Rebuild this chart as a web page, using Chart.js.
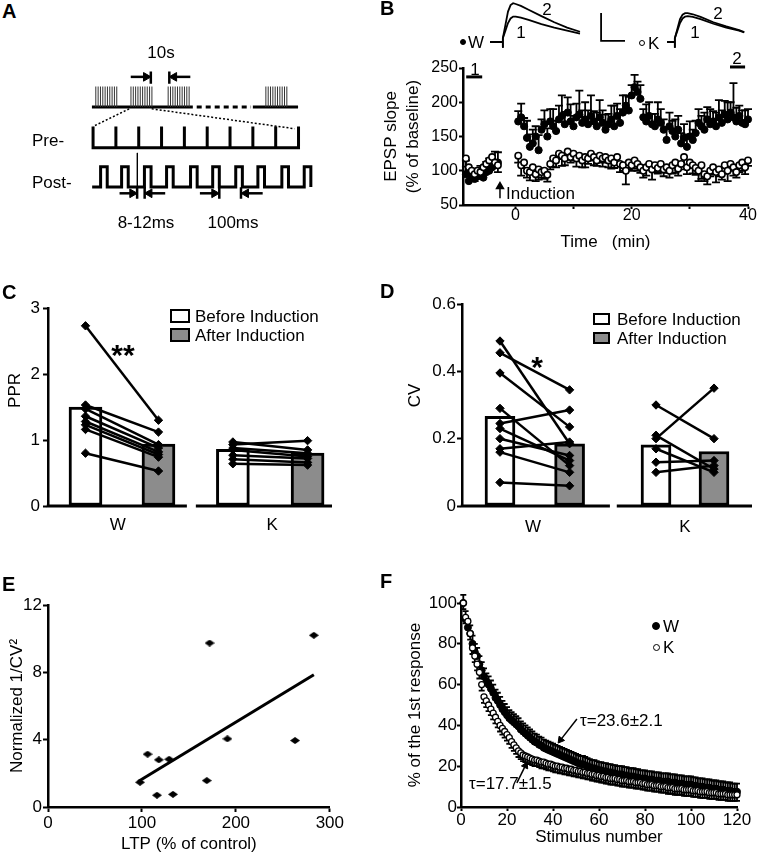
<!DOCTYPE html>
<html>
<head>
<meta charset="utf-8">
<title>Figure</title>
<script src="https://cdn.jsdelivr.net/npm/chart.js@4.4.1/dist/chart.umd.min.js"></script>
<style>
html,body{margin:0;padding:0;background:#fff;}
#wrap{position:relative;width:758px;height:853px;overflow:hidden;background:#fff;color:#000;font-family:'Liberation Sans',Arial,Helvetica,sans-serif;}
#wrap canvas{position:absolute;}
.t{position:absolute;white-space:nowrap;line-height:1;font-size:17px;}
.box{position:absolute;box-sizing:border-box;border:2px solid #000;}
.dot{position:absolute;box-sizing:border-box;border-radius:50%;border:1.5px solid #000;}
</style>
</head>
<body>
<div id="wrap"></div>
<script>
// ================= DATA =================
// Panel A (protocol schematic; units of 100 ms pulse intervals)
const aPreTicks   = [0, 1, 2, 3, 4, 5, 6, 7, 8, 9];
const aPostOnsets = [0.33, 1.25, 2.25, 3.22, 4.27, 5.24, 6.25, 7.22, 8.27, 9.25];
const aBurstOnsets = [0.12, 1.66, 3.29, 7.57];

// Panel B: EPSP slope (% of baseline) vs time (min)
const bTime = [-8.5,-8,-7.5,-7,-6.5,-6,-5.5,-5,-4.5,-4,-3.5,-3,
  0.5,1,1.5,2,2.5,3,3.5,4,4.5,5,5.5,6,6.5,7,7.5,8,8.5,9,9.5,10,
  10.5,11,11.5,12,12.5,13,13.5,14,14.5,15,15.5,16,16.5,17,17.5,18,18.5,19,19.5,20,
  20.5,21,21.5,22,22.5,23,23.5,24,24.5,25,25.5,26,26.5,27,27.5,28,28.5,29,29.5,30,
  30.5,31,31.5,32,32.5,33,33.5,34,34.5,35,35.5,36,36.5,37,37.5,38,38.5,39,39.5,40];
const bW = [95,85,90,88,92,95,90,98,100,105,108,112,
  172,178,165, 148,135,140,150,130, 160,168,150,172,165,158,
  175,180,168,185,172,165,178,182,170,175,168,180,172,165,178,170,
  160,168,175,165,180,170,185,195,188, 210,222,215,205,
  178,172,180,168,165,175,170,160,
  145,165,158,150,160,140,148,135,150,145,155,
  170,165,160,175,168,172,165,178,170,182,175,185,178,172,180,170,168,175];
const bWErr = [20,12,10,15,10,12,10,15,18,12,20,15,
  15,20,12,25,18,20,15,22,15,20,12,18,25,15,20,30,18,22,25,15,
  20,35,18,25,20,30,15,20,25,18,22,15,20,30,18,20,25,15,20,15,
  18,15,20,12,25,20,15,18,25,20,15,18,20,15,25,20,15,20,18,22,
  15,18,20,15,25,18,22,15,20,25,18,20,25,15,50,20,15,18,20,15];
const bK = [118,105,100,95,100,98,105,110,115,120,112,108,
  122,108,112, 100,98,105,95,102, 98,100,94,110,118,115,
  125,122,118,128,120,125,118,122,115,120,118,125,120,115,122,118,
  120,115,118,112,120,110,108,100,112, 108,115,110,105,
  100,105,110,102,108,104,110,102,
  105,100,108,112,103,110,120,105,112,108,104,
  100,108,95,92,100,105,98,102,95,108,100,110,105,98,108,112,105,115];
const bKErr = [12,10,8,10,12,8,10,12,10,15,8,10,
  10,15,8,10,12,8,10,15,8,12,10,8,12,10,8,15,10,12,8,10,
  12,8,10,15,8,10,12,8,10,12,8,10,15,8,10,12,8,20,10,8,
  12,10,8,10,12,8,15,10,8,12,10,8,10,12,15,10,8,12,10,8,
  12,10,15,20,10,12,8,10,15,10,8,12,15,10,12,8,10,12,10,8];
const bXTicks = [0, 10, 20, 30, 40];
// sample EPSP traces (ms, mV-ish)
const bTraceT  = [0,5,5,5,6,7,8,9,10,12,15,20,25,30,35];
const bTraceW1 = [0,0,-0.15,0.1,0.3,0.5,0.62,0.67,0.67,0.64,0.58,0.47,0.38,0.3,0.22];
const bTraceW2 = [0,0,-0.15,0.1,0.45,0.8,0.97,1.02,1.0,0.95,0.85,0.68,0.52,0.38,0.27];
const bTraceKT = [2,5,5,5,6,7,8,9,10,12,15,20,25,30,32];
const bTraceK1 = [0,0,-0.15,0.1,0.3,0.5,0.62,0.67,0.68,0.66,0.6,0.48,0.38,0.3,0.25];
const bTraceK2 = [0,0,-0.15,0.1,0.35,0.6,0.72,0.76,0.76,0.73,0.66,0.52,0.41,0.31,0.26];

// Panel C: PPR
const cGroups = ['W', 'K'];
const cBefore = [1.50, 0.86];
const cAfter  = [0.94, 0.80];
const cWBefore = [2.73, 1.53, 1.47, 1.36, 1.28, 1.23, 1.16, 0.80];
const cWAfter  = [1.30, 1.12, 0.93, 0.88, 0.82, 0.78, 0.74, 0.53];
const cKBefore = [0.93, 0.97, 0.88, 0.85, 0.77, 0.71, 0.64];
const cKAfter  = [0.99, 0.85, 0.80, 0.75, 0.72, 0.66, 0.62];

// Panel D: CV
const dGroups = ['W', 'K'];
const dBefore = [0.266, 0.182];
const dAfter  = [0.185, 0.162];
const dWBefore = [0.49, 0.455, 0.395, 0.29, 0.245, 0.23, 0.20, 0.17, 0.16, 0.07];
const dWAfter  = [0.185, 0.345, 0.235, 0.12, 0.285, 0.135, 0.15, 0.19, 0.10, 0.06];
const dKBefore = [0.30, 0.20, 0.21, 0.17, 0.13, 0.10];
const dKAfter  = [0.20, 0.35, 0.11, 0.10, 0.135, 0.12];

// Panel E: normalized 1/CV^2 vs LTP
const eLTP    = [98, 106, 118, 129, 116, 133, 169, 172, 191, 263, 283];
const eInvCV2 = [1.47, 3.14, 2.80, 2.84, 0.70, 0.75, 1.57, 9.74, 4.05, 3.95, 10.2];
const eFitX = [96, 283];
const eFitY = [1.51, 7.86];

// Panel F: % of 1st response vs stimulus number
const fStim = Array.from({length: 120}, (_, i) => i + 1);
const fW = [100,92,88,85,80,76,74,70,67,64,
  61.5,60,58,56,53.5,52,50,48,46.5,45,
  43.5,42.5,41.5,40.5,39.5,38,37,36,35,34,
  33,32,31.5,30.5,30,29,28.5,28,27.5,27,
  26.5,26,25.5,25,24.5,24,23.5,23,22.5,22,
  21.5,21,21,20.5,20,19.5,19,19,18.5,18,
  18,17.5,17.5,17,17,16.5,16.5,16,16,16,
  15.5,15.5,15,15,15,14.5,14.5,14,14,14,
  13.5,13.5,13.5,13,13,13,12.5,12.5,12.5,12.5,
  12,12,12,11.5,11.5,11.5,11,11,11,11,
  10.5,10.5,10,10,10,9.5,9.5,9.5,9,9,
  9,8.5,8.5,8.5,8,8,8,7.5,7.5,7.5];
const fK = [100,93,91,85,78,74,70,66,60,54,
  52,50,48,46,44,42,40,38.5,37,35.5,
  34,32,30.5,29,27.5,26.5,25.5,25,24.5,24,
  23.5,23,23,22.5,22,22,21.5,21,21,20.5,
  20,20,19.5,19.5,19,19,18.5,18.5,18,18,
  17.5,17.5,17,17,16.5,16.5,16,16,15.5,15.5,
  15,15,14.5,14.5,14,14,14,13.5,13.5,13,
  13,13,12.5,12.5,12.5,12,12,12,11.5,11.5,
  11,11,11,10.5,10.5,10.5,10,10,10,9.5,
  9.5,9.5,9,9,9,9,8.5,8.5,8.5,8.5,
  8,8,8,7.5,7.5,7.5,7.5,7,7,7,
  7,6.5,6.5,6.5,6.5,6,6,6,6,6];
const fErrW = 4;
const fErrK = 3;

// ================= SETUP =================
const FONT = "'Liberation Sans', Arial, Helvetica, sans-serif";
Chart.defaults.font.family = FONT;
Chart.defaults.font.size = 17;
Chart.defaults.color = '#000';
Chart.defaults.animation = false;
Chart.defaults.responsive = false;
Chart.defaults.maintainAspectRatio = false;
Chart.defaults.devicePixelRatio = 1;
Chart.defaults.events = [];
Chart.defaults.plugins.legend.display = false;
Chart.defaults.plugins.tooltip.enabled = false;

const wrap = document.getElementById('wrap');
function mk(left, top, w, h) {
  const c = document.createElement('canvas');
  c.width = w; c.height = h;
  c.style.left = left + 'px'; c.style.top = top + 'px';
  c.style.width = w + 'px'; c.style.height = h + 'px';
  wrap.appendChild(c);
  return c;
}
function txt(s, x, y, o = {}) {
  const d = document.createElement('div');
  d.className = 't';
  d.textContent = s;
  d.style.left = x + 'px'; d.style.top = y + 'px';
  const tx = o.align === 'center' ? '-50%' : (o.align === 'right' ? '-100%' : '0');
  d.style.transform = `translate(${tx},-50%)`;
  if (o.size) d.style.fontSize = o.size + 'px';
  if (o.bold) d.style.fontWeight = 'bold';
  wrap.appendChild(d);
}
function box(x, y, w, h, bg) {
  const d = document.createElement('div');
  d.className = 'box';
  Object.assign(d.style, {left: x + 'px', top: y + 'px', width: w + 'px', height: h + 'px', background: bg});
  wrap.appendChild(d);
}
function dot(cx, cy, r, fill) {
  const d = document.createElement('div');
  d.className = 'dot';
  Object.assign(d.style, {left: (cx - r) + 'px', top: (cy - r) + 'px', width: 2 * r + 'px', height: 2 * r + 'px', background: fill});
  wrap.appendChild(d);
}

function axisY(o) {
  return {
    type: 'linear', position: 'left', min: o.min, max: o.max,
    ticks: {stepSize: o.step, color: '#000', font: {size: o.fs || 17}, padding: o.tp ?? 1, autoSkip: false},
    grid: {display: true, drawOnChartArea: false, drawTicks: true, tickLength: o.tl ?? 5, tickColor: '#000', tickWidth: 2, color: '#000'},
    border: {display: true, color: '#000', width: 2.5},
    title: {display: true, text: o.title, color: '#000', font: {size: 17, lineHeight: o.lh || 1.2}, padding: {top: o.titlePad, bottom: 0}},
    afterFit: (s) => { s.width = o.width; }
  };
}
function axisX(o) {
  const a = {
    type: 'linear', position: 'bottom', min: o.min, max: o.max, offset: false,
    ticks: {stepSize: o.step, color: '#000', font: {size: o.fs || 17}, padding: o.tp ?? 1, autoSkip: false, maxRotation: 0},
    grid: {display: true, drawOnChartArea: false, drawTicks: true, tickLength: o.tl ?? 5, tickColor: '#000', tickWidth: 2, color: '#000', offset: false},
    border: {display: true, color: '#000', width: 2.5},
    title: {display: !!o.title, text: o.title || '', color: '#000', font: {size: 17}, padding: {top: 0, bottom: o.titlePad || 0}},
    afterFit: (s) => { s.height = o.height; }
  };
  if (o.tickValues) {
    a.afterBuildTicks = (s) => { s.ticks = o.tickValues.map(v => ({value: v})); };
  }
  if (o.cb) a.ticks.callback = o.cb;
  return a;
}

const errorBarPlugin = {
  id: 'errorBarPlugin',
  beforeDatasetDraw(chart, args) {
    const ds = chart.data.datasets[args.index];
    const eb = ds.errorBars;
    if (!eb) return;
    const ys = chart.scales.y, ctx = chart.ctx;
    ctx.save();
    ctx.strokeStyle = '#000';
    ctx.lineWidth = eb.width || 1.8;
    args.meta.data.forEach((pt, i) => {
      const raw = ds.data[i];
      const e = Array.isArray(eb.values) ? eb.values[i] : eb.values;
      if (raw == null || e == null) return;
      const y2 = ys.getPixelForValue(raw.y + eb.dir * e);
      ctx.beginPath();
      ctx.moveTo(pt.x, pt.y); ctx.lineTo(pt.x, y2);
      ctx.moveTo(pt.x - eb.cap, y2); ctx.lineTo(pt.x + eb.cap, y2);
      ctx.stroke();
    });
    ctx.restore();
  }
};
const brokenAxisPlugin = {
  id: 'brokenAxis',
  afterDraw(chart, args, opts) {
    const xs = chart.scales.x, ctx = chart.ctx, y = chart.chartArea.bottom;
    ctx.save();
    ctx.strokeStyle = '#000'; ctx.lineWidth = 3; ctx.lineCap = 'butt';
    (opts.segments || []).forEach(([a, b]) => {
      ctx.beginPath();
      ctx.moveTo(xs.getPixelForValue(a) - 1.25, y);
      ctx.lineTo(xs.getPixelForValue(b), y);
      ctx.stroke();
    });
    ctx.restore();
  }
};

function lineDS(points, o = {}) {
  return Object.assign({
    data: points, showLine: true, borderColor: '#000', borderWidth: 2.5, pointRadius: 0,
    spanGaps: false, clip: false, borderJoinStyle: 'miter', tension: 0
  }, o);
}
function arrowDS(from, to, rot, o = {}) {
  return Object.assign({
    data: [from, to], showLine: true, borderColor: '#000', borderWidth: 2.5,
    pointRadius: [0, 5], pointStyle: 'triangle', pointRotation: [0, rot],
    pointBackgroundColor: '#000', pointBorderColor: '#000', pointBorderWidth: 1, clip: false
  }, o);
}

// ================= PANEL A =================
(function () {
  const base = 6, top = 7, preB = 4.01, preT = 5.05, postB = 2.1, postT = 3.08, pw = 0.29;
  const bursts = [];
  aBurstOnsets.forEach(s => {
    for (let k = 0; k < 10; k++) {
      const x = s + k * 0.102;
      bursts.push({x, y: base}, {x, y: top}, {x, y: null});
    }
  });
  const pre = [];
  aPreTicks.forEach((u, i) => {
    if (i === 0) { pre.push({x: u, y: preT}, {x: u, y: preB}); }
    else { pre.push({x: u, y: preB}, {x: u, y: preT}); if (i < aPreTicks.length - 1) pre.push({x: u, y: preB}); }
  });
  const post = [{x: -0.04, y: postB}];
  aPostOnsets.forEach(s => { post.push({x: s, y: postB}, {x: s, y: postT}, {x: s + pw, y: postT}, {x: s + pw, y: postB}); });

  new Chart(mk(30, 60, 343, 176), {
    type: 'scatter',
    data: {datasets: [
      lineDS(bursts, {borderWidth: 1, borderColor: '#333'}),
      lineDS([{x: -0.05, y: base}, {x: 4.37, y: base}], {borderWidth: 3}),
      lineDS([{x: 4.54, y: base}, {x: 6.92, y: base}], {borderWidth: 3, borderDash: [5, 4]}),
      lineDS([{x: 7.0, y: base}, {x: 8.98, y: base}], {borderWidth: 3}),
      lineDS([{x: 1.58, y: 5.91}, {x: 0, y: 5.05}], {borderWidth: 1.5, borderDash: [2, 2]}),
      lineDS([{x: 2.57, y: 5.91}, {x: 8.83, y: 4.94}], {borderWidth: 1.5, borderDash: [2, 2]}),
      lineDS(pre, {borderWidth: 3}),
      lineDS(post, {borderWidth: 3}),
      lineDS([{x: 1.94, y: 3.76}, {x: 1.94, y: 1.94}], {borderWidth: 1}),
      // 10 s markers
      arrowDS({x: 1.65, y: 7.47}, {x: 2.32, y: 7.47}, 90),
      lineDS([{x: 2.53, y: 7.73}, {x: 2.53, y: 7.14}], {borderWidth: 2.5}),
      arrowDS({x: 4.26, y: 7.47}, {x: 3.55, y: 7.47}, 270),
      lineDS([{x: 3.34, y: 7.73}, {x: 3.34, y: 7.14}], {borderWidth: 2.5}),
      // 8-12 ms markers
      arrowDS({x: 1.16, y: 1.79}, {x: 1.72, y: 1.79}, 90),
      lineDS([{x: 1.93, y: 2.09}, {x: 1.93, y: 1.53}], {borderWidth: 2.5}),
      arrowDS({x: 3.16, y: 1.79}, {x: 2.47, y: 1.79}, 270),
      lineDS([{x: 2.26, y: 2.09}, {x: 2.26, y: 1.53}], {borderWidth: 2.5}),
      // 100 ms markers
      arrowDS({x: 4.68, y: 1.79}, {x: 5.31, y: 1.79}, 90),
      lineDS([{x: 5.53, y: 2.09}, {x: 5.53, y: 1.53}], {borderWidth: 2.5}),
      arrowDS({x: 7.43, y: 1.79}, {x: 6.70, y: 1.79}, 270),
      lineDS([{x: 6.48, y: 2.09}, {x: 6.48, y: 1.53}], {borderWidth: 2.5})
    ]},
    options: {layout: {padding: 0}, scales: {x: {display: false, min: -2.5, max: 12}, y: {display: false, min: 0, max: 8}}}
  });
  txt('A', 2, 11, {bold: true, size: 20});
  txt('10s', 161, 52, {align: 'center'});
  txt('Pre-', 32, 140);
  txt('Post-', 32, 182);
  txt('8-12ms', 146, 222, {align: 'center'});
  txt('100ms', 233, 222, {align: 'center'});
})();

// ================= PANEL B =================
(function () {
  const pW = bTime.map((t, i) => ({x: t, y: bW[i]}));
  const pK = bTime.map((t, i) => ({x: t, y: bK[i]}));
  new Chart(mk(380, 50, 378, 210), {
    type: 'scatter',
    data: {datasets: [
      {label: 'W', data: pW, pointRadius: 3.6, pointBackgroundColor: '#000', pointBorderColor: '#000', pointBorderWidth: 1, clip: false, order: 2,
       errorBars: {values: bWErr, dir: 1, cap: 4}},
      {label: 'K', data: pK, pointRadius: 3.2, pointBackgroundColor: '#fff', pointBorderColor: '#000', pointBorderWidth: 1.6, clip: false, order: 1,
       errorBars: {values: bKErr, dir: -1, cap: 4}},
      lineDS([{x: -2.64, y: 60}, {x: -2.64, y: 77}], {borderWidth: 1.5, pointRadius: [0, 4], pointStyle: 'triangle', pointRotation: [0, 0], pointBackgroundColor: '#000', pointBorderColor: '#000', order: 0}),
      lineDS([{x: -8.45, y: 237}, {x: -5.7, y: 237}], {borderWidth: 3, order: 0}),
      lineDS([{x: 36.9, y: 251.5}, {x: 39.5, y: 251.5}], {borderWidth: 3, order: 0})
    ]},
    options: {
      layout: {padding: {left: 0, top: 18, right: 10, bottom: 0}},
      scales: {
        x: axisX({min: -9, max: 40, height: 55, tl: 4, tp: -3, fs: 16, title: 'Time   (min)', titlePad: 7, tickValues: bXTicks,
                  cb: (v) => (v % 20 === 0 ? String(v) : '')}),
        y: axisY({min: 50, max: 250, step: 50, width: 83, tl: 4, tp: 1, fs: 16, title: ['EPSP slope', '(% of baseline)'], lh: 1.3, titlePad: 0})
      }
    },
    plugins: [errorBarPlugin]
  });
  // sample traces
  new Chart(mk(490, 0, 135, 52), {
    type: 'scatter',
    data: {datasets: [
      lineDS(bTraceT.map((t, i) => ({x: t, y: bTraceW1[i]})), {borderWidth: 1.8}),
      lineDS(bTraceT.map((t, i) => ({x: t, y: bTraceW2[i]})), {borderWidth: 1.8}),
      lineDS([{x: 43.2, y: 0.76}, {x: 43.2, y: 0.03}, {x: 52.5, y: 0.03}], {borderWidth: 1.8})
    ]},
    options: {layout: {padding: 0}, scales: {x: {display: false, min: 0, max: 52.5}, y: {display: false, min: -0.263, max: 1.105}}}
  });
  new Chart(mk(662, 0, 96, 52), {
    type: 'scatter',
    data: {datasets: [
      lineDS(bTraceKT.map((t, i) => ({x: t, y: bTraceK1[i]})), {borderWidth: 1.8}),
      lineDS(bTraceKT.map((t, i) => ({x: t, y: bTraceK2[i]})), {borderWidth: 1.8})
    ]},
    options: {layout: {padding: 0}, scales: {x: {display: false, min: 0, max: 37.35}, y: {display: false, min: -0.263, max: 1.105}}}
  });
  // trace line from label to artifact (baseline)
  txt('B', 380, 8, {bold: true, size: 20});
  dot(463, 42, 3, '#000');
  txt('W', 468, 42);
  dot(642, 43, 3.2, '#fff');
  txt('K', 648, 43);
  txt('2', 547, 9, {align: 'center'});
  txt('1', 521, 32, {align: 'center'});
  txt('2', 718, 13, {align: 'center'});
  txt('1', 695, 32, {align: 'center'});
  txt('1', 475, 69, {align: 'center'});
  txt('2', 737, 58, {align: 'center'});
  txt('Induction', 506, 193);
})();

// ================= PANEL C / D (bars + paired lines) =================
function pairedPanel(cv, cfg) {
  const ds = [
    {type: 'bar', label: 'Before Induction', order: 2, grouped: false, barThickness: cfg.barW,
     data: [{x: cfg.pos[0], y: cfg.before[0]}, {x: cfg.pos[2], y: cfg.before[1]}],
     backgroundColor: '#fff', borderColor: '#000', borderWidth: 3, borderSkipped: false},
    {type: 'bar', label: 'After Induction', order: 2, grouped: false, barThickness: cfg.barW,
     data: [{x: cfg.pos[1], y: cfg.after[0]}, {x: cfg.pos[3], y: cfg.after[1]}],
     backgroundColor: '#8c8c8c', borderColor: '#000', borderWidth: 3, borderSkipped: false}
  ];
  const pairStyle = {type: 'line', order: 0, borderColor: '#000', borderWidth: 2.5, pointStyle: 'rectRot', pointRadius: 4.2,
    pointBackgroundColor: '#000', pointBorderColor: '#000', pointBorderWidth: 1, clip: false, tension: 0};
  cfg.wB.forEach((b, i) => ds.push(Object.assign({data: [{x: cfg.pos[0], y: b}, {x: cfg.pos[1], y: cfg.wA[i]}]}, pairStyle)));
  cfg.kB.forEach((b, i) => ds.push(Object.assign({data: [{x: cfg.pos[2], y: b}, {x: cfg.pos[3], y: cfg.kA[i]}]}, pairStyle)));
  const xs = axisX({min: 0, max: 10, height: cfg.xH, tp: cfg.labPad, tickValues: cfg.labPos, cb: (v, i) => cfg.groups[i]});
  xs.grid = {display: false, drawTicks: false, tickLength: 0};
  xs.border = {display: false};
  new Chart(cv, {
    type: 'bar',
    data: {datasets: ds},
    options: {
      layout: {padding: cfg.pad},
      scales: {x: xs, y: axisY(cfg.y)},
      plugins: {brokenAxis: {segments: cfg.segments}}
    },
    plugins: [brokenAxisPlugin]
  });
}
pairedPanel(mk(0, 290, 345, 250), {
  groups: cGroups, before: cBefore, after: cAfter, wB: cWBefore, wA: cWAfter, kB: cKBefore, kA: cKAfter,
  pos: [1.32, 3.89, 6.51, 9.14], labPos: [2.46, 7.89], barW: 33, segments: [[0, 4.89], [5.25, 10]],
  pad: {left: 0, top: 18, right: 13, bottom: 0}, xH: 34, labPad: 9,
  y: {min: 0, max: 3, step: 1, width: 48, tl: 5, tp: 3, title: '       PPR', titlePad: 5}
});
txt('C', 2, 292, {bold: true, size: 20});
box(170, 309, 20, 14, '#fff'); txt('Before Induction', 195, 316);
box(170, 328, 20, 14, '#8c8c8c'); txt('After Induction', 195, 335);
txt('**', 123, 355, {align: 'center', bold: true, size: 30});

pairedPanel(mk(380, 290, 378, 250), {
  groups: dGroups, before: dBefore, after: dAfter, wB: dWBefore, wA: dWAfter, kB: dKBefore, kA: dKAfter,
  pos: [1.31, 3.71, 6.69, 8.69], labPos: [2.45, 7.69], barW: 30, segments: [[0, 5.1], [5.38, 10]],
  pad: {left: 0, top: 14, right: 6, bottom: 0}, xH: 34, labPad: 11,
  y: {min: 0, max: 0.6, step: 0.2, width: 82, tl: 5, tp: 1, title: '    CV', titlePad: 25}
});
txt('D', 380, 291, {bold: true, size: 20});
box(593, 313, 17, 12, '#fff'); txt('Before Induction', 617, 319);
box(593, 332, 17, 12, '#8c8c8c'); txt('After Induction', 617, 338);
txt('*', 537, 367, {align: 'center', bold: true, size: 30});

// ================= PANEL E =================
(function () {
  const dm = document.createElement('canvas');
  dm.width = 10; dm.height = 7;
  const g = dm.getContext('2d');
  g.fillStyle = '#000';
  g.beginPath(); g.moveTo(0, 3.5); g.lineTo(5, 0); g.lineTo(10, 3.5); g.lineTo(5, 7); g.closePath(); g.fill();
  new Chart(mk(0, 590, 345, 263), {
    type: 'scatter',
    data: {datasets: [
      {label: 'cells', data: eLTP.map((x, i) => ({x, y: eInvCV2[i]})), pointStyle: dm, pointRadius: 5, clip: false, order: 0},
      lineDS(eFitX.map((x, i) => ({x, y: eFitY[i]})), {borderWidth: 3, order: 1})
    ]},
    options: {
      layout: {padding: {left: 0, top: 15, right: 14, bottom: 0}},
      scales: {
        x: axisX({min: 0, max: 300, step: 100, height: 46, tl: 5, tp: 1, title: 'LTP (% of control)', titlePad: -2}),
        y: axisY({min: 0, max: 12, step: 4, width: 48, tl: 5, tp: 1, title: 'Normalized 1/CV²', titlePad: 7})
      }
    }
  });
  txt('E', 2, 584, {bold: true, size: 20});
})();

// ================= PANEL F =================
(function () {
  new Chart(mk(380, 590, 378, 263), {
    type: 'scatter',
    data: {datasets: [
      {label: 'W', data: fStim.map((s, i) => ({x: s, y: fW[i]})), pointRadius: 3.5, pointBackgroundColor: '#000', pointBorderColor: '#000', pointBorderWidth: 1, clip: false, order: 2,
       errorBars: {values: fErrW, dir: 1, cap: 3}},
      {label: 'K', data: fStim.map((s, i) => ({x: s, y: fK[i]})), pointRadius: 3, pointBackgroundColor: '#fff', pointBorderColor: '#000', pointBorderWidth: 1.3, clip: false, order: 1,
       errorBars: {values: fErrK, dir: -1, cap: 3}},
      arrowDS({x: 50.4, y: 43.1}, {x: 43.3, y: 32.9}, 218, {borderWidth: 1.5, pointRadius: [0, 4], order: 0}),
      arrowDS({x: 24.3, y: 11.8}, {x: 28.0, y: 20.3}, 25, {borderWidth: 1.5, pointRadius: [0, 4], order: 0})
    ]},
    options: {
      layout: {padding: {left: 0, top: 13, right: 21, bottom: 0}},
      scales: {
        x: axisX({min: 0, max: 120, step: 20, height: 46, tl: 4, tp: -1, title: 'Stimulus number', titlePad: 5}),
        y: axisY({min: 0, max: 100, step: 20, width: 81, tl: 4, tp: 0, title: '% of the 1st response', titlePad: 25})
      }
    },
    plugins: [errorBarPlugin]
  });
  txt('F', 380, 581, {bold: true, size: 20});
  dot(656, 626, 4, '#000'); txt('W', 663, 626);
  dot(656, 647, 3.5, '#fff'); txt('K', 663, 647);
  txt('τ=23.6±2.1', 580, 720);
  txt('τ=17.7±1.5', 469, 783);
})();
</script>
</body>
</html>
